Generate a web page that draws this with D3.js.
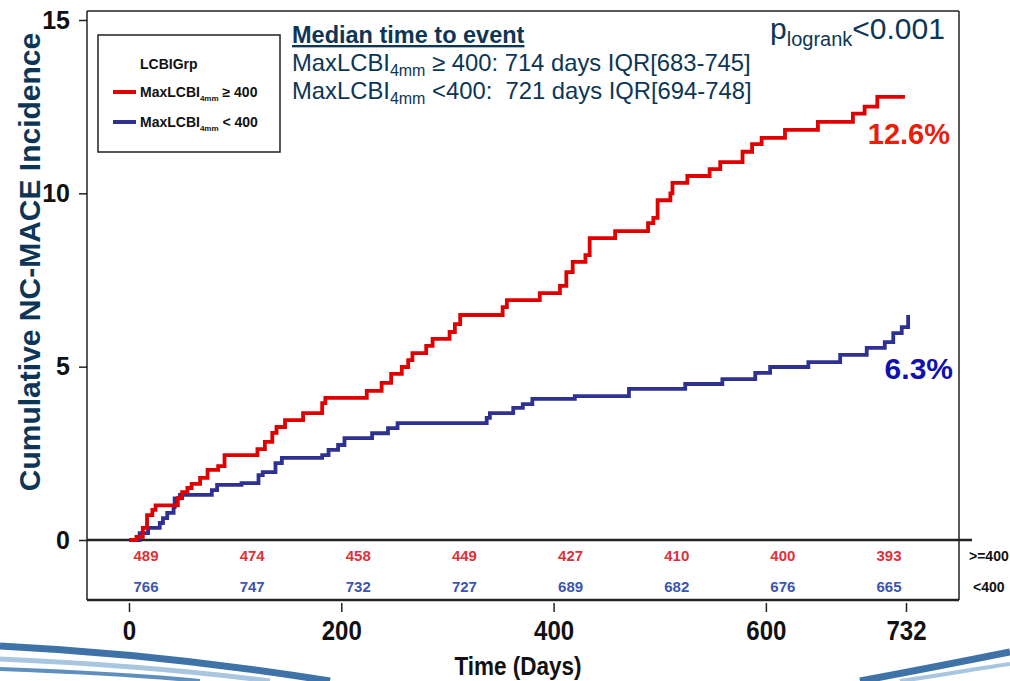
<!DOCTYPE html>
<html><head><meta charset="utf-8">
<script src="https://cdn.jsdelivr.net/npm/d3@7"></script>
<style>
body{margin:0;background:#fff}
svg{display:block}
text{font-family:Arial,"Liberation Sans",sans-serif}
</style></head>
<body><svg id="c" width="1010" height="681"></svg>
<script>
// ---- data ----
const redTime = [0,7,13,17,22,25,46,50,55,59,67,74,84,90,121,128,135,139,147,164,182,185,224,238,247,257,263,267,280,286,302,307,312,352,356,387,406,412,418,430,434,458,489,494,498,510,512,526,547,557,578,587,596,618,649,682,693,705,731];
const redCum  = [0,0.09,0.35,0.72,0.87,1.0,1.21,1.38,1.5,1.62,1.79,2.02,2.13,2.45,2.62,2.83,3.09,3.26,3.46,3.66,3.95,4.1,4.3,4.53,4.79,4.99,5.19,5.39,5.6,5.8,6.0,6.23,6.49,6.72,6.92,7.12,7.33,7.73,8.02,8.22,8.71,8.91,9.14,9.29,9.8,10.0,10.3,10.5,10.7,10.9,11.2,11.42,11.6,11.83,12.06,12.3,12.5,12.78,12.78];
const blueTime = [0,10,18,29,32,36,42,43,48,78,83,106,122,126,138,144,182,188,197,203,229,244,253,337,340,362,371,380,420,471,524,559,590,604,640,670,695,712,720,728,734];
const blueCum  = [0,0.2,0.35,0.49,0.63,0.78,0.95,1.2,1.3,1.44,1.59,1.64,1.87,1.96,2.22,2.37,2.45,2.6,2.74,2.94,3.08,3.23,3.37,3.52,3.66,3.81,3.92,4.07,4.15,4.36,4.5,4.64,4.82,4.99,5.13,5.34,5.54,5.71,5.97,6.14,6.49];
const riskTimes = [0,100,200,300,400,500,600,700];
const riskHigh = [489,474,458,449,427,410,400,393];
const riskLow  = [766,747,732,727,689,682,676,665];
const xTicks = [0,200,400,600,732];
const yTicks = [0,5,10,15];
const endLabels = ["12.6%","6.3%"];
const riskRowLabels = [">=400","<400"];

const svg = d3.select("#c");
const navy = "#0d3656";
const redC = "#e00000", blueC = "#2e3192";

// background swooshes
const bg = svg.append("g");
bg.append("path").attr("d","M0,646 C120,652 230,665 330,681").attr("fill","none").attr("stroke","#3f73a8").attr("stroke-width",7);
bg.append("path").attr("d","M0,659 C110,664 200,672 270,681").attr("fill","none").attr("stroke","#a8c6e0").attr("stroke-width",5);
bg.append("path").attr("d","M0,669 C80,672 150,676 200,681").attr("fill","none").attr("stroke","#5f8fbf").attr("stroke-width",4);
bg.append("path").attr("d","M860,681 C920,670 970,660 1010,652").attr("fill","none").attr("stroke","#3f73a8").attr("stroke-width",7);
bg.append("path").attr("d","M900,681 C950,674 980,668 1010,664").attr("fill","none").attr("stroke","#a8c6e0").attr("stroke-width",4);

// scales
const x = d3.scaleLinear().domain([0,732]).range([129,906]);
const y = d3.scaleLinear().domain([0,15]).range([540,20]);

const L = 87, R = 959, T = 11, B = 600;

// frame
svg.append("line").attr("x1",L).attr("x2",R).attr("y1",T).attr("y2",T).attr("stroke","#222").attr("stroke-width",1.5);
svg.append("line").attr("x1",R).attr("x2",R).attr("y1",T).attr("y2",B).attr("stroke","#222").attr("stroke-width",1.5);
svg.append("line").attr("x1",L).attr("x2",R).attr("y1",B).attr("y2",B).attr("stroke","#222").attr("stroke-width",2.5);
svg.append("line").attr("x1",L).attr("x2",L).attr("y1",T).attr("y2",B).attr("stroke","#222").attr("stroke-width",1.5);
svg.append("line").attr("x1",L).attr("x2",972).attr("y1",y(0)).attr("y2",y(0)).attr("stroke","#222").attr("stroke-width",2.5);

// y axis
const ya = svg.append("g").attr("transform",`translate(${L},0)`)
  .call(d3.axisLeft(y).tickValues(yTicks).tickSize(8).tickSizeOuter(0).tickPadding(9));
ya.select(".domain").remove();
ya.selectAll("line").attr("stroke","#222").attr("stroke-width",1.5);
ya.selectAll("text").attr("font-size",25).attr("font-weight","bold").attr("fill","#111");

// x axis
const xa = svg.append("g").attr("transform",`translate(0,${B+3})`)
  .call(d3.axisBottom(x).tickValues(xTicks).tickSize(9).tickSizeOuter(0).tickPadding(8));
xa.select(".domain").remove();
xa.selectAll("line").attr("stroke","#222").attr("stroke-width",1.5);
xa.selectAll("text").attr("font-size",28).attr("font-weight","bold").attr("fill","#111")
  .attr("transform","scale(0.86,1)");

// axis titles
svg.append("text").attr("x",518/0.9).attr("y",675).attr("text-anchor","middle")
  .attr("transform","scale(0.9,1)")
  .attr("font-size",25).attr("font-weight","bold").attr("fill","#111").text("Time (Days)");
svg.append("text").attr("transform","translate(40,262) rotate(-90)").attr("text-anchor","middle")
  .attr("font-size",30).attr("font-weight","bold").attr("fill",navy).text("Cumulative NC-MACE Incidence");

// curves
const line = d3.line().x(d=>x(d[0])).y(d=>y(d[1])).curve(d3.curveStepAfter);
const redPts = redTime.map((t,i)=>[t,redCum[i]]);
const bluePts = blueTime.map((t,i)=>[t,blueCum[i]]);
svg.append("path").attr("d",line(bluePts)).attr("fill","none").attr("stroke",blueC).attr("stroke-width",3.8);
svg.append("path").attr("d",line(redPts)).attr("fill","none").attr("stroke",redC).attr("stroke-width",3.8);

// end labels
svg.append("text").attr("x",950).attr("y",144).attr("text-anchor","end").attr("font-size",29).attr("font-weight","bold").attr("fill","#e8200a").text(endLabels[0]);
svg.append("text").attr("x",953).attr("y",379).attr("text-anchor","end").attr("font-size",30).attr("font-weight","bold").attr("fill","#1010b0").text(endLabels[1]);

// risk table
const rowY = [556, 587];
[riskHigh, riskLow].forEach((arr,r)=>{
  svg.append("g").selectAll("text").data(arr).join("text")
    .attr("x",(d,i)=>x(riskTimes[i])+17).attr("y",rowY[r]+5).attr("text-anchor","middle")
    .attr("font-size",15).attr("font-weight","bold").attr("fill",r===0?"#e0303a":"#3d55b0").text(d=>d);
});
svg.append("text").attr("x",969).attr("y",rowY[0]+5).attr("font-size",14).attr("font-weight","bold").attr("fill","#111").text(riskRowLabels[0]);
svg.append("text").attr("x",973).attr("y",rowY[1]+5).attr("font-size",14).attr("font-weight","bold").attr("fill","#111").text(riskRowLabels[1]);

// legend
const lg = svg.append("g");
lg.append("rect").attr("x",98).attr("y",35).attr("width",182).attr("height",117).attr("fill","#fff").attr("stroke","#222").attr("stroke-width",1.5);
lg.append("text").attr("x",140).attr("y",69).attr("font-size",14).attr("font-weight","bold").attr("fill","#111").text("LCBIGrp");
[[92,redC],[122,blueC]].forEach(([ly,c],i)=>{
  lg.append("line").attr("x1",113).attr("x2",136).attr("y1",ly).attr("y2",ly).attr("stroke",c).attr("stroke-width",4);
  const t = lg.append("text").attr("x",140).attr("y",ly+5).attr("font-size",14).attr("font-weight","bold").attr("fill","#111");
  t.append("tspan").text("MaxLCBI");
  t.append("tspan").attr("font-size",8).attr("dy",4).text("4mm");
  t.append("tspan").attr("dy",-4).text(i===0?" \u2265 400":" < 400");
});

// median annotation
svg.append("text").attr("x",292).attr("y",43).attr("font-size",23.5).attr("font-weight","bold").attr("fill",navy)
  .attr("text-decoration","underline").text("Median time to event");
const medLines = [[" \u2265 400: 714 days IQR[683-745]",71],[" <400:  721 days IQR[694-748]",99]];
medLines.forEach(([s,yy])=>{
  const t = svg.append("text").attr("x",292).attr("y",yy).attr("font-size",23.8).attr("fill",navy).style("white-space","pre");
  t.append("tspan").text("MaxLCBI");
  t.append("tspan").attr("font-size",16).attr("dy",5).text("4mm");
  t.append("tspan").attr("dy",-5).text(s);
});

// p value
const pt = svg.append("text").attr("x",770).attr("y",39).attr("font-size",30).attr("fill",navy);
pt.append("tspan").text("p");
pt.append("tspan").attr("font-size",20).attr("dy",7).text("logrank");
pt.append("tspan").attr("dy",-7).text("<0.001");
</script>
</body></html>
